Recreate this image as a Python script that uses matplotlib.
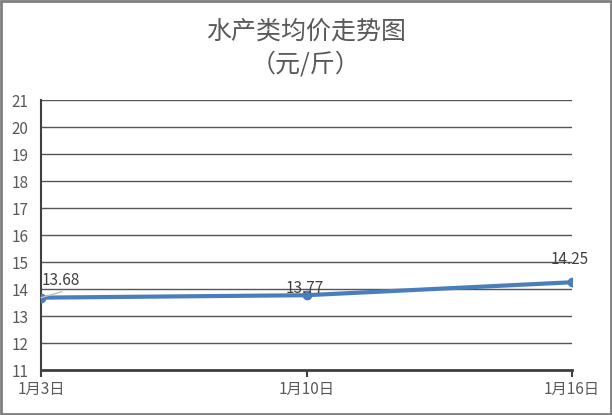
import matplotlib.pyplot as plt
from matplotlib.patches import Rectangle

# 폰트 설정
plt.rcParams['font.family'] = ['Noto Sans CJK SC', 'DejaVu Sans']

# 데이터
dates = ["1月3日", "1月10日", "1月16日"]
prices = [13.68, 13.77, 14.25]
y_ticks = list(range(11, 22))

fig = plt.figure(figsize=(6.12, 4.15), dpi=100)
ax = fig.add_axes([41 / 612, 1 - 370 / 415, (572 - 41) / 612, (370 - 100) / 415])

x = list(range(len(dates)))
ax.plot(x, prices, color="#4a7ebb", linewidth=3, marker="o", markersize=6, zorder=3)

# 데이터 라벨 (pixel offset)
label_offsets = [(20, 17), (-2, 7), (-2, 23)]
for i, (dx, dy) in enumerate(label_offsets):
    ax.annotate(f"{prices[i]:.2f}", (x[i], prices[i]), xytext=(dx, dy),
                textcoords="offset pixels", fontsize=11, color="#404040",
                ha="center", va="center", zorder=4)
# 첫 라벨 leader line
ax.annotate("", (x[0], prices[0]), xytext=(21, 6), textcoords="offset pixels",
            arrowprops=dict(arrowstyle="-", color="#bfbfbf", lw=1, shrinkA=0, shrinkB=0))

ax.set_xlim(0, 2)
ax.set_ylim(11, 21)
ax.set_yticks(y_ticks)
ax.set_xticks(x)
ax.set_xticklabels(dates)
ax.grid(axis="y", color="#555555", linewidth=1)
ax.set_axisbelow(True)

for side in ["top", "right"]:
    ax.spines[side].set_visible(False)
ax.spines["left"].set_color("#404040")
ax.spines["left"].set_linewidth(1.5)
ax.spines["bottom"].set_color("#404040")
ax.spines["bottom"].set_linewidth(2)

ax.tick_params(axis="y", length=0, labelsize=11, labelcolor="#595959", pad=9)
ax.tick_params(axis="x", length=5, width=1.5, color="#404040", labelsize=11,
               labelcolor="#595959", pad=3)

# 제목
fig.text(0.5, 1 - 32 / 415, "水产类均价走势图", ha="center", va="center",
         fontsize=18, color="#595959")
fig.text(0.5, 1 - 64 / 415, "（元/斤）", ha="center", va="center",
         fontsize=18, color="#595959")

# 외곽 테두리
fig.patches.append(Rectangle((0.002, 0.003), 0.996, 0.994, transform=fig.transFigure,
                             fill=False, edgecolor="#7f7f7f", linewidth=2))

fig.savefig("out.png", dpi=100)
